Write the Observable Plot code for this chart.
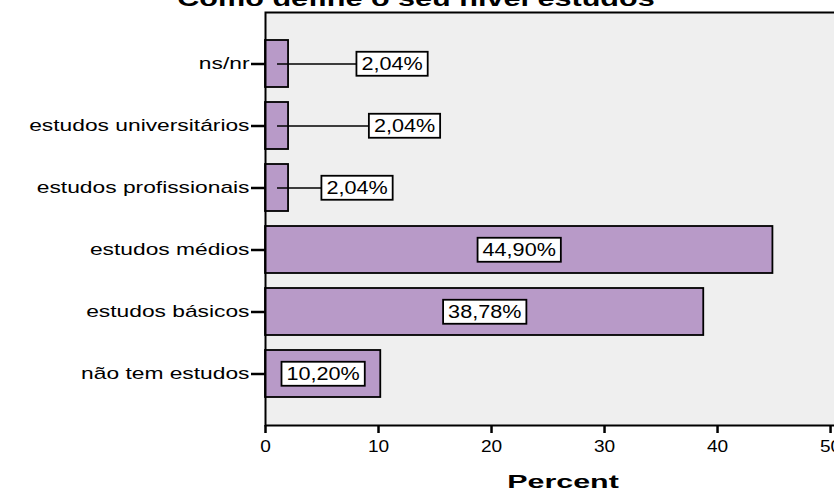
<!DOCTYPE html>
<html><head><meta charset="utf-8">
<script src="https://cdn.jsdelivr.net/npm/d3@7"></script>
<script src="https://cdn.jsdelivr.net/npm/@observablehq/plot@0.6"></script>
<style>
html,body{margin:0;padding:0;background:#fff;overflow:hidden;width:834px;height:491px}
#chart{position:relative;width:834px;height:491px;overflow:hidden}
#chart svg{max-width:none !important;width:860px;height:491px}
svg text{font-family:"Liberation Sans",Arial,sans-serif}
</style></head><body><div id="chart"></div>
<script>
const categories = ["ns/nr","estudos universitários","estudos profissionais","estudos médios","estudos básicos","não tem estudos"];
const percents = [2.04, 2.04, 2.04, 44.90, 38.78, 10.20];
const valueLabels = ["2,04%","2,04%","2,04%","44,90%","38,78%","10,20%"];
const labelAt = [11.2, 12.3, 8.1, 22.45, 19.4, 5.1];
const xTicks = [0, 10, 20, 30, 40, 50];
const chartTitle = "Como define o seu nível estudos";
const xTitle = "Percent";

const rows = categories.map((c, i) => ({cat: c, value: percents[i], label: valueLabels[i], at: labelAt[i]}));

const plot = Plot.plot({
  width: 860, height: 491,
  marginLeft: 265, marginRight: 0, marginTop: 12, marginBottom: 66,
  style: {background: "transparent", color: "#000", overflow: "visible", maxWidth: "none"},
  x: {domain: [0, 52.65]},
  y: {domain: categories, paddingInner: 0.25, paddingOuter: 0.42},
  marks: [
    Plot.frame({fill: "#efefef", stroke: null}),
    Plot.barX(rows, {x: "value", y: "cat", fill: "#b89ac8", stroke: "#000", strokeWidth: 1.8}),
    Plot.link(rows, {x1: d => d.value / 2, x2: "at", y1: "cat", y2: "cat", stroke: "#000", strokeWidth: 1.5}),
    Plot.text(rows, {x: "at", y: "cat", text: "label", fontSize: 18, fill: "#000", className: "vlab"}),
    Plot.frame({stroke: "#000", strokeWidth: 2}),
    Plot.axisY({tickSize: 14, tickPadding: 2, strokeWidth: 2.5, fontSize: 17, label: null}),
    Plot.axisX({ticks: xTicks, tickSize: 8, tickPadding: 6, strokeWidth: 2.5, fontSize: 17, label: null, tickFormat: d => String(d)})
  ]
});
document.getElementById("chart").append(plot);
const svg = d3.select(plot);

function stretch(sel, f) {
  sel.each(function () {
    const w = this.getComputedTextLength();
    this.setAttribute("textLength", w * f);
    this.setAttribute("lengthAdjust", "spacingAndGlyphs");
  });
}
stretch(svg.selectAll('g[aria-label="y-axis tick label"] text'), 1.34);
stretch(svg.selectAll('g[aria-label="x-axis tick label"] text'), 1.12);
stretch(svg.selectAll('g.vlab text'), 1.2);

svg.selectAll('g.vlab text').each(function () {
  const b = this.getBBox();
  const r = document.createElementNS("http://www.w3.org/2000/svg", "rect");
  r.setAttribute("x", b.x - 5);
  r.setAttribute("y", b.y - 2);
  r.setAttribute("width", b.width + 10);
  r.setAttribute("height", b.height + 4);
  r.setAttribute("fill", "#fff");
  r.setAttribute("stroke", "#000");
  r.setAttribute("stroke-width", 1.8);
  const t = this.getAttribute("transform");
  if (t) r.setAttribute("transform", t);
  this.parentNode.insertBefore(r, this);
});

const tt = svg.append("text").attr("x", 416).attr("y", 6).attr("text-anchor", "middle")
  .attr("font-weight", "bold").attr("font-size", 22).attr("fill", "#000").text(chartTitle);
stretch(tt, 1.39);
const xt = svg.append("text").attr("x", 563).attr("y", 488).attr("text-anchor", "middle")
  .attr("font-weight", "bold").attr("font-size", 19).attr("fill", "#000").text(xTitle);
stretch(xt, 1.6);
</script></body></html>
